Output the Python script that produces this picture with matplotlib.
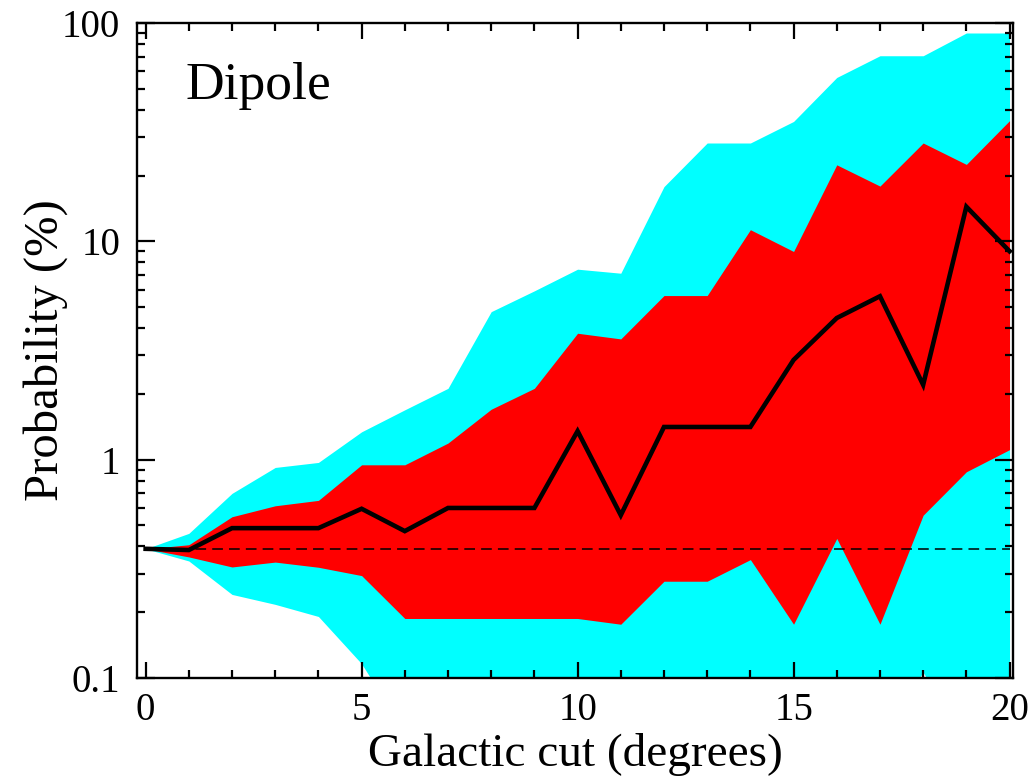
import numpy as np
import matplotlib
matplotlib.use('Agg')
import matplotlib.pyplot as plt
from matplotlib.ticker import LogLocator, FixedLocator, MultipleLocator, NullFormatter

plt.rcParams['font.family'] = ['Liberation Serif', 'DejaVu Serif']

# Galactic cut in degrees
cut = np.arange(0, 21)

# median probability (%)
median = [0.39, 0.385, 0.485, 0.485, 0.485, 0.595, 0.47, 0.6, 0.6, 0.6, 1.35,
          0.556, 1.41, 1.41, 1.41, 2.86, 4.45, 5.6, 2.2, 14.4, 9.0]

# inner (red) band
red_lo = [0.39, 0.358, 0.322, 0.339, 0.321, 0.294, 0.187, 0.187, 0.187, 0.187, 0.187,
          0.176, 0.277, 0.277, 0.348, 0.176, 0.435, 0.176, 0.556, 0.879, 1.11]
red_hi = [0.39, 0.407, 0.547, 0.614, 0.65, 0.946, 0.946, 1.19, 1.7, 2.12, 3.79,
          3.57, 5.64, 5.64, 11.3, 8.98, 22.4, 17.9, 28.2, 22.5, 35.7]

# outer (cyan) band
cyan_lo = [0.39, 0.343, 0.241, 0.217, 0.191, 0.116, 0.056, 0.056, 0.056, 0.056, 0.056,
           0.056, 0.056, 0.056, 0.056, 0.056, 0.056, 0.056, 0.106, 0.05, 0.05]
cyan_hi = [0.39, 0.459, 0.70, 0.92, 0.97, 1.34, 1.69, 2.12, 4.76, 5.93, 7.45,
           7.14, 17.8, 28.2, 28.2, 35.4, 56.3, 70.8, 70.8, 90.0, 90.0]

expected = 0.39

fig = plt.figure(figsize=(10.3, 7.8), dpi=100)
ax = fig.add_axes([0.133, 0.131, 0.8505, 0.8395])

ax.fill_between(cut, cyan_lo, cyan_hi, color='#00ffff', lw=0)
ax.fill_between(cut, red_lo, red_hi, color='#ff0000', lw=0)
ax.plot(cut, median, color='black', lw=3.3, solid_joinstyle='miter')
ax.axhline(expected, xmin=0.0095, xmax=0.996, color='black', lw=1.1, dashes=(7, 4))

ax.set_yscale('log')
ax.set_xlim(-0.2, 20.08)
ax.set_ylim(0.1, 100)

ax.xaxis.set_major_locator(MultipleLocator(5))
ax.xaxis.set_minor_locator(MultipleLocator(1))
ax.yaxis.set_major_locator(FixedLocator([0.1, 1, 10, 100]))
ax.yaxis.set_minor_locator(LogLocator(base=10, subs=np.arange(2, 10)))
ax.yaxis.set_minor_formatter(NullFormatter())
ax.set_yticklabels(['0.1', '1', '10', '100'])

ax.tick_params(which='both', direction='in', top=True, right=True, width=1.6,
               labelsize=28, colors='black')
ax.tick_params(axis='x', which='major', length=11.5, pad=10)
ax.tick_params(axis='y', which='major', length=13, pad=12)
ax.tick_params(which='minor', length=6)
for s in ax.spines.values():
    s.set_linewidth(1.7)

ax.set_xlabel('Galactic cut (degrees)', fontsize=34, labelpad=3)
ax.set_ylabel('Probability (%)', fontsize=35, labelpad=-4)
ax.text(0.055, 0.884, 'Dipole', transform=ax.transAxes, fontsize=38.5, va='baseline')

fig.savefig('out.png', dpi=100)
